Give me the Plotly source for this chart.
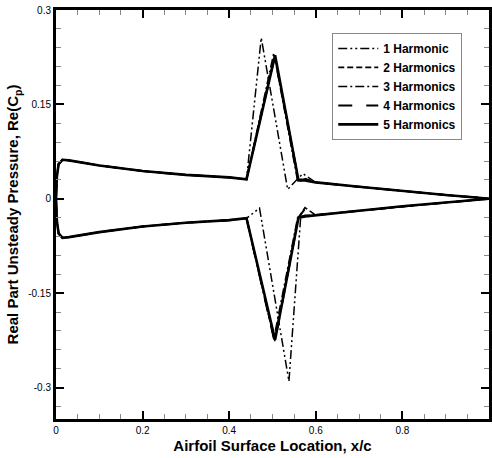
import plotly.graph_objects as go

# ---- data (x/c, Re(Cp)) ----
series_names = ["1 Harmonic", "2 Harmonics", "3 Harmonics", "4 Harmonics", "5 Harmonics"]

le_x = [0.0, 0.002, 0.006, 0.015, 0.03, 0.1, 0.2, 0.3, 0.4, 0.44]
le_up = [0.0, 0.035, 0.055, 0.062, 0.061, 0.053, 0.044, 0.038, 0.034, 0.031]
te_x = [0.6, 0.7, 0.8, 0.9, 0.97, 1.0]
te_up = [0.026, 0.019, 0.012, 0.006, 0.002, 0.0]

# spike region per series (upper surface)
h1_up_x = [0.474, 0.535, 0.57]
h1_up_y = [0.256, 0.015, 0.040]
h2_up_x = [0.505, 0.56, 0.575]
h2_up_y = [0.228, 0.030, 0.032]
h3_up_x = [0.503, 0.558, 0.575]
h3_up_y = [0.232, 0.028, 0.030]
h4_up_x = [0.505, 0.56, 0.575]
h4_up_y = [0.226, 0.030, 0.031]
h5_up_x = [0.506, 0.56, 0.575]
h5_up_y = [0.228, 0.029, 0.029]

# spike region per series (lower surface)
h1_lo_x = [0.47, 0.538, 0.565]
h1_lo_y = [-0.015, -0.29, -0.030]
h2_lo_x = [0.505, 0.56, 0.575]
h2_lo_y = [-0.226, -0.030, -0.014]
h3_lo_x = [0.503, 0.558, 0.575]
h3_lo_y = [-0.222, -0.030, -0.026]
h4_lo_x = [0.505, 0.56, 0.575]
h4_lo_y = [-0.228, -0.030, -0.016]
h5_lo_x = [0.506, 0.56, 0.575]
h5_lo_y = [-0.224, -0.030, -0.028]

spikes_up = [(h1_up_x, h1_up_y), (h2_up_x, h2_up_y), (h3_up_x, h3_up_y), (h4_up_x, h4_up_y), (h5_up_x, h5_up_y)]
spikes_lo = [(h1_lo_x, h1_lo_y), (h2_lo_x, h2_lo_y), (h3_lo_x, h3_lo_y), (h4_lo_x, h4_lo_y), (h5_lo_x, h5_lo_y)]

y_tickvals = [0.3, 0.15, 0.0, -0.15, -0.3]
y_ticktext = ["0.3", "0.15", "0", "-0.15", "-0.3"]
x_tickvals = [0, 0.2, 0.4, 0.6, 0.8, 1.0]
x_ticktext = ["0", "0.2", "0.4", "0.6", "0.8", "1"]

# ---- styles ----
dashes = ["9px,3px,2px,3px,2px,3px", "6px,3px", "9px,3px,2px,3px", "14px,14px", "solid"]
widths = [1.5, 1.6, 1.5, 2.0, 2.6]

fig = go.Figure()
for i, name in enumerate(series_names):
    sx, sy = spikes_up[i]
    xs = le_x + sx + te_x
    ys = le_up + sy + te_up
    fig.add_trace(go.Scatter(x=xs, y=ys, mode="lines", name=name, legendgroup=name,
                             line=dict(color="black", width=widths[i], dash=dashes[i])))
    lx, ly = spikes_lo[i]
    xs2 = le_x + lx + te_x
    ys2 = [-v for v in le_up] + ly + [-v for v in te_up]
    fig.add_trace(go.Scatter(x=xs2, y=ys2, mode="lines", name=name, legendgroup=name, showlegend=False,
                             line=dict(color="black", width=widths[i], dash=dashes[i])))

fig.update_layout(
    width=492, height=458,
    margin=dict(l=56, r=0, t=10, b=39),
    plot_bgcolor="white", paper_bgcolor="white",
    font=dict(family="Liberation Sans, Arial", color="black", size=10),
    legend=dict(x=0.638, y=0.944, xanchor="left", yanchor="top",
                bgcolor="white", bordercolor="#888888", borderwidth=1,
                font=dict(size=12, family="Liberation Sans, Arial", weight="bold"),
                tracegroupgap=0, itemwidth=40),
)
fig.update_xaxes(
    range=[0, 1.0], tickvals=x_tickvals, ticktext=x_ticktext,
    showgrid=False, zeroline=False,
    showline=True, linecolor="black", linewidth=3, mirror="allticks",
    ticks="inside", ticklen=8, tickwidth=1.5, tickcolor="black",
    minor=dict(dtick=0.05, ticks="inside", ticklen=5, tickwidth=1, tickcolor="#888888"),
    tickfont=dict(size=10),
    title=dict(text="Airfoil Surface Location, x/c", font=dict(size=15, weight="bold"), standoff=6),
)
fig.update_yaxes(
    range=[-0.35, 0.3], tickvals=y_tickvals, ticktext=y_ticktext,
    showgrid=False, zeroline=False,
    showline=True, linecolor="black", linewidth=3, mirror="allticks",
    ticks="inside", ticklen=8, tickwidth=1.5, tickcolor="black",
    minor=dict(dtick=0.03, tick0=0, ticks="inside", ticklen=5, tickwidth=1, tickcolor="#888888"),
    tickfont=dict(size=10),
    title=dict(text="Real Part Unsteady Pressure, Re(C<sub>p</sub>)", font=dict(size=15, weight="bold"), standoff=6),
)

fig.write_html("out.html")
